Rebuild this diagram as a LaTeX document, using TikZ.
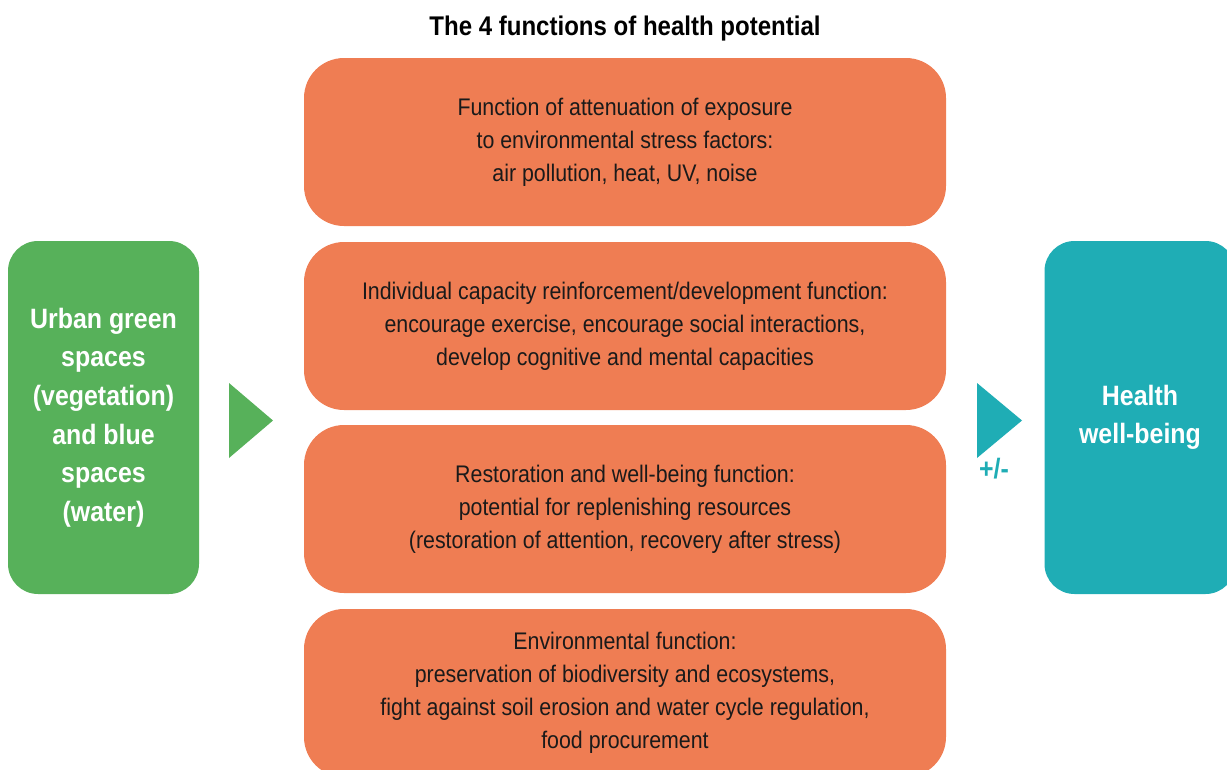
\documentclass[tikz,border=0pt]{standalone}
\usepackage{fontspec}
\setmainfont{Liberation Sans}[FakeStretch=0.89]
\definecolor{funcorange}{HTML}{EF7D53}
\definecolor{spacegreen}{HTML}{57B15A}
\definecolor{healthteal}{HTML}{1FADB5}
\definecolor{textdark}{HTML}{1A1A1A}
\begin{document}
\begin{tikzpicture}[x=1pt,y=-1pt,
  funcbox/.style={fill=funcorange, rounded corners=40pt, minimum width=642pt, minimum height=168pt,
    align=center, text=textdark, font=\fontsize{24}{33}\selectfont, inner sep=0pt},
  sidebox/.style={rounded corners=30pt, minimum width=191pt, minimum height=353pt,
    align=center, text=white, font=\fontsize{28}{38.6}\selectfont\bfseries, inner sep=0pt},
  titletext/.style={font=\fontsize{27}{30}\selectfont\bfseries, text=black}]
\useasboundingbox (0,0) rectangle (1227,769);
\clip (0,0) rectangle (1227,769);

% title
\node[titletext] (title) at (625,28.5) {The 4 functions of health potential};

% the four functions
\node[funcbox] (f1) at (625,142) {Function of attenuation of exposure\\to environmental stress factors:\\air pollution, heat, UV, noise};
\node[funcbox] (f2) at (625,326) {Individual capacity reinforcement/development function:\\encourage exercise, encourage social interactions,\\develop cognitive and mental capacities};
\node[funcbox] (f3) at (625,509) {Restoration and well-being function:\\potential for replenishing resources\\(restoration of attention, recovery after stress)};
\node[funcbox] (f4) at (625,693) {Environmental function:\\preservation of biodiversity and ecosystems,\\fight against soil erosion and water cycle regulation,\\food procurement};

% source and outcome
\node[sidebox, fill=spacegreen] (green) at (103.5,417.5) {Urban green\\spaces\\(vegetation)\\and blue\\spaces\\(water)};
\node[sidebox, fill=healthteal] (health) at (1140,417.5) {Health\\well-being};

% arrow heads between the blocks
\coordinate (ga1) at (229,383);
\coordinate (ga2) at (273,420.5);
\coordinate (ga3) at (229,458);
\fill[spacegreen] (ga1) -- (ga2) -- (ga3) -- cycle;
\coordinate (ta1) at (977,383);
\coordinate (ta2) at (1022,420.5);
\coordinate (ta3) at (977,458);
\fill[healthteal] (ta1) -- (ta2) -- (ta3) -- cycle;
\node[font=\fontsize{28}{30}\selectfont\bfseries, text=healthteal] (pm) at (994,469) {+/-};
\end{tikzpicture}
\end{document}
